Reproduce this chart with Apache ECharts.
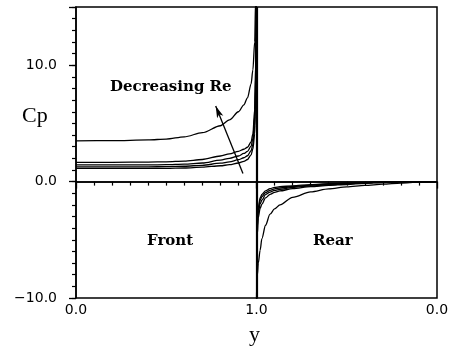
<!DOCTYPE html>
<html>
<head>
<meta charset="utf-8">
<script src="https://cdn.jsdelivr.net/npm/echarts@6/dist/echarts.min.js"></script>
<style>
  html, body { margin: 0; padding: 0; background: #fff; }
  #chart { width: 456px; height: 352px; }
</style>
</head>
<body>
<div id="chart"></div>
<script>
// front face: y positions (0 -> 1)
var frontY = [0, 0.2, 0.4, 0.5, 0.6, 0.7, 0.8, 0.85, 0.9, 0.93, 0.95, 0.97, 0.98, 0.99, 0.995, 0.998, 1.0];
var frontA = [3.5, 3.52, 3.58, 3.65, 3.85, 4.2, 4.8, 5.3, 6.0, 6.6, 7.2, 8.4, 9.6, 12.0, 15.5, 20, 25];
var frontB = [1.65, 1.66, 1.68, 1.7, 1.76, 1.9, 2.2, 2.38, 2.6, 2.78, 2.95, 3.4, 4.1, 6.2, 10, 15, 20];
var frontC = [1.43, 1.43, 1.44, 1.45, 1.5, 1.6, 1.85, 2.0, 2.2, 2.42, 2.6, 3.05, 3.7, 5.6, 9, 14, 20];
var frontD = [1.27, 1.27, 1.27, 1.28, 1.32, 1.4, 1.58, 1.7, 1.88, 2.05, 2.22, 2.65, 3.2, 4.8, 8, 12.5, 20];
var frontE = [1.13, 1.13, 1.13, 1.14, 1.17, 1.24, 1.36, 1.45, 1.6, 1.74, 1.9, 2.3, 2.8, 4.1, 7, 11, 20];

// rear face: y positions (1 -> 0)
var rearY = [1.0, 0.998, 0.995, 0.99, 0.98, 0.97, 0.95, 0.925, 0.9, 0.87, 0.8, 0.7, 0.6, 0.5, 0.4, 0.3, 0.2, 0.1, 0.0];
var rearF = [-12, -9.0, -8.0, -7.0, -5.9, -4.9, -3.75, -2.8, -2.35, -2.0, -1.35, -0.88, -0.62, -0.46, -0.33, -0.22, -0.13, -0.05, 0];
var rearG = [-12, -7, -4.5, -3.1, -2.3, -1.94, -1.4, -1.1, -0.92, -0.8, -0.6, -0.44, -0.33, -0.25, -0.15, -0.08, -0.03, -0.01, 0];
var rearH = [-12, -6, -3.8, -2.7, -1.9, -1.6, -1.12, -0.9, -0.76, -0.66, -0.5, -0.37, -0.27, -0.2, -0.12, -0.06, -0.02, 0, 0];
var rearI = [-12, -5.5, -3.3, -2.45, -1.6, -1.3, -0.95, -0.75, -0.62, -0.55, -0.42, -0.31, -0.22, -0.16, -0.09, -0.04, -0.01, 0, 0];
var rearJ = [-12, -5, -3, -2.2, -1.4, -1.1, -0.8, -0.6, -0.5, -0.44, -0.36, -0.26, -0.18, -0.12, -0.07, -0.03, -0.01, 0, 0];

// ticks
var yMin = -10, yMax = 15;
var xTickLabels = ['0.0', '1.0', '0.0'];

// arrow "Decreasing Re" (tail -> head), data coords
var arrowTail = [0.925, 0.7];
var arrowHead = [0.774, 6.5];

var chart = echarts.init(document.getElementById('chart'));

function frontPts(vals) {
    return frontY.map(function (y, i) { return [y, vals[i]]; });
}
function rearPts(vals) {
    // rear face is drawn mirrored: plot position = 2 - y
    return rearY.map(function (y, i) { return [2 - y, vals[i]]; });
}

var lineStyle = { color: '#000', width: 1.3 };
function curve(data) {
    return {
        type: 'line',
        data: data,
        showSymbol: false,
        smooth: 0.3,
        smoothMonotone: 'x',
        lineStyle: lineStyle,
        silent: true
    };
}

var series = [frontA, frontB, frontC, frontD, frontE].map(function (v) { return curve(frontPts(v)); })
    .concat([rearF, rearG, rearH, rearI, rearJ].map(function (v) { return curve(rearPts(v)); }));

series[0].markLine = {
    silent: true,
    symbol: 'none',
    label: { show: false },
    data: [
        { xAxis: 1, lineStyle: { color: '#000', width: 2.2, type: 'solid' } },
        { yAxis: 0, lineStyle: { color: '#000', width: 1.5, type: 'solid' } },
        [
            { coord: arrowTail, symbol: 'none' },
            { coord: arrowHead, symbol: 'arrow', symbolSize: [5, 12], lineStyle: { color: '#000', width: 1.3, type: 'solid' } }
        ]
    ]
};

var labelFont = { color: '#000', fontFamily: 'DejaVu Sans', fontSize: 14 };
var noteFont = { fill: '#000', fontFamily: 'DejaVu Serif', fontWeight: 'bold', fontSize: 15 };

var option = {
    animation: false,
    grid: { left: 76, right: 19, top: 7, bottom: 54, show: true, borderColor: '#000', borderWidth: 1.5 },
    xAxis: {
        type: 'value',
        min: 0,
        max: 2,
        interval: 1,
        axisLine: { lineStyle: { color: '#000', width: 1.5 } },
        axisTick: { length: 7, lineStyle: { color: '#000', width: 1.3 } },
        minorTick: { show: true, splitNumber: 10, length: 4, lineStyle: { color: '#000', width: 1.2 } },
        splitLine: { show: false },
        axisLabel: Object.assign({
            margin: 5,
            formatter: function (v) { return xTickLabels[Math.round(v)]; }
        }, labelFont)
    },
    yAxis: [{
        type: 'value',
        min: yMin,
        max: yMax,
        interval: 10,
        axisLine: { lineStyle: { color: '#000', width: 1.5 } },
        axisTick: { length: 7, lineStyle: { color: '#000', width: 1.3 } },
        splitLine: { show: false },
        axisLabel: Object.assign({
            margin: 19,
            formatter: function (v) {
                if (v > 10) return '';
                return (v < 0 ? '\u2212' : '') + Math.abs(v).toFixed(1);
            }
        }, labelFont)
    }, {
        type: 'value',
        min: yMin,
        max: yMax,
        interval: 1,
        position: 'left',
        offset: 0,
        axisLine: { show: false },
        axisTick: { length: 4, lineStyle: { color: '#000', width: 1.2 } },
        splitLine: { show: false },
        axisLabel: { show: false }
    }],
    graphic: [
        { type: 'text', left: 22, top: 105, style: { text: 'Cp', fill: '#000', fontFamily: 'Liberation Serif', fontSize: 22 } },
        { type: 'text', left: 249, top: 324, style: { text: 'y', fill: '#000', fontFamily: 'Liberation Serif', fontSize: 22 } },
        { type: 'text', left: 110, top: 80, style: Object.assign({ text: 'Decreasing Re' }, noteFont) },
        { type: 'text', left: 147, top: 234, style: Object.assign({ text: 'Front' }, noteFont) },
        { type: 'text', left: 313, top: 234, style: Object.assign({ text: 'Rear' }, noteFont) }
    ],
    series: series
};

chart.setOption(option);
</script>
</body>
</html>
